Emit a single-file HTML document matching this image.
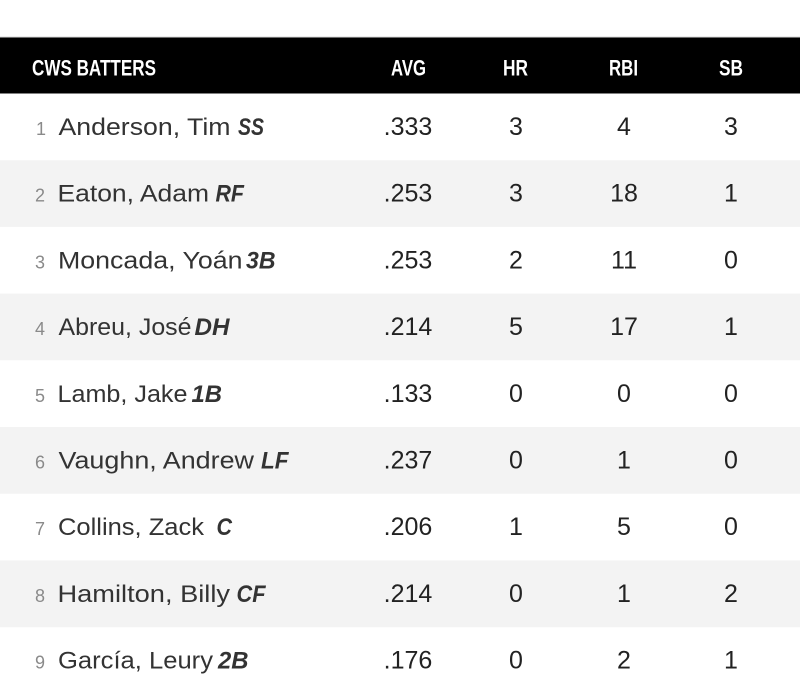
<!DOCTYPE html>
<html>
<head>
<meta charset="utf-8">
<style>
  html, body { margin:0; padding:0; background:#fff; }
  svg { display:block; }
  .hl { font-family:"Liberation Sans", sans-serif; font-weight:bold; font-size:22px; fill:#fff; }
  .num { font-family:"Liberation Sans", sans-serif; font-size:18px; fill:#8a8a8a; }
  .nm { font-family:"Liberation Sans", sans-serif; font-size:24px; fill:#333; }
  .ps { font-family:"Liberation Sans", sans-serif; font-size:24px; font-weight:bold; font-style:italic; fill:#333; }
  .v { font-family:"Liberation Sans", sans-serif; font-size:25px; fill:#222; text-anchor:middle; }
</style>
</head>
<body>
<svg width="800" height="700" viewBox="0 0 800 700" xmlns="http://www.w3.org/2000/svg">
  <rect x="0" y="0" width="800" height="700" fill="#fff"/>
  <rect x="0" y="36.5" width="800" height="1" fill="#d8d8d8"/>
  <rect x="0" y="37.5" width="800" height="56" fill="#000"/>
  <text class="hl" x="32" y="75.5" textLength="124" lengthAdjust="spacingAndGlyphs">CWS BATTERS</text>
  <text class="hl" x="391" y="75.5" textLength="35" lengthAdjust="spacingAndGlyphs">AVG</text>
  <text class="hl" x="503" y="75.5" textLength="25" lengthAdjust="spacingAndGlyphs">HR</text>
  <text class="hl" x="609" y="75.5" textLength="29" lengthAdjust="spacingAndGlyphs">RBI</text>
  <text class="hl" x="719" y="75.5" textLength="24" lengthAdjust="spacingAndGlyphs">SB</text>

  <!-- row backgrounds -->
  <rect x="0" y="160.2" width="800" height="66.7" fill="#f3f3f3"/>
  <rect x="0" y="293.6" width="800" height="66.7" fill="#f3f3f3"/>
  <rect x="0" y="427" width="800" height="66.7" fill="#f3f3f3"/>
  <rect x="0" y="560.4" width="800" height="66.9" fill="#f3f3f3"/>

  <!-- row 1 -->
  <text class="num" x="36" y="135">1</text>
  <text class="nm" x="58.5" y="135" textLength="172" lengthAdjust="spacingAndGlyphs">Anderson, Tim</text>
  <text class="ps" x="238" y="135" textLength="26" lengthAdjust="spacingAndGlyphs">SS</text>
  <text class="v" x="408" y="135">.333</text><text class="v" x="516" y="135">3</text><text class="v" x="624" y="135">4</text><text class="v" x="731" y="135">3</text>

  <!-- row 2 -->
  <text class="num" x="35" y="201.7">2</text>
  <text class="nm" x="57.5" y="201.7" textLength="151.5" lengthAdjust="spacingAndGlyphs">Eaton, Adam</text>
  <text class="ps" x="215.5" y="201.7" textLength="28.5" lengthAdjust="spacingAndGlyphs">RF</text>
  <text class="v" x="408" y="201.7">.253</text><text class="v" x="516" y="201.7">3</text><text class="v" x="624" y="201.7">18</text><text class="v" x="731" y="201.7">1</text>

  <!-- row 3 -->
  <text class="num" x="35" y="268.4">3</text>
  <text class="nm" x="58" y="268.4" textLength="184.5" lengthAdjust="spacingAndGlyphs">Moncada, Yoán</text>
  <text class="ps" x="246" y="268.4" textLength="29.5" lengthAdjust="spacingAndGlyphs">3B</text>
  <text class="v" x="408" y="268.4">.253</text><text class="v" x="516" y="268.4">2</text><text class="v" x="624" y="268.4">11</text><text class="v" x="731" y="268.4">0</text>

  <!-- row 4 -->
  <text class="num" x="35" y="335.1">4</text>
  <text class="nm" x="58.5" y="335.1" textLength="133" lengthAdjust="spacingAndGlyphs">Abreu, José</text>
  <text class="ps" x="194.5" y="335.1" textLength="35" lengthAdjust="spacingAndGlyphs">DH</text>
  <text class="v" x="408" y="335.1">.214</text><text class="v" x="516" y="335.1">5</text><text class="v" x="624" y="335.1">17</text><text class="v" x="731" y="335.1">1</text>

  <!-- row 5 -->
  <text class="num" x="35" y="401.8">5</text>
  <text class="nm" x="57.5" y="401.8" textLength="130" lengthAdjust="spacingAndGlyphs">Lamb, Jake</text>
  <text class="ps" x="191.5" y="401.8" textLength="30.5" lengthAdjust="spacingAndGlyphs">1B</text>
  <text class="v" x="408" y="401.8">.133</text><text class="v" x="516" y="401.8">0</text><text class="v" x="624" y="401.8">0</text><text class="v" x="731" y="401.8">0</text>

  <!-- row 6 -->
  <text class="num" x="35" y="468.5">6</text>
  <text class="nm" x="58.5" y="468.5" textLength="195.5" lengthAdjust="spacingAndGlyphs">Vaughn, Andrew</text>
  <text class="ps" x="261" y="468.5" textLength="27.5" lengthAdjust="spacingAndGlyphs">LF</text>
  <text class="v" x="408" y="468.5">.237</text><text class="v" x="516" y="468.5">0</text><text class="v" x="624" y="468.5">1</text><text class="v" x="731" y="468.5">0</text>

  <!-- row 7 -->
  <text class="num" x="35" y="535.2">7</text>
  <text class="nm" x="58" y="535.2" textLength="146" lengthAdjust="spacingAndGlyphs">Collins, Zack</text>
  <text class="ps" x="216.5" y="535.2" textLength="15.5" lengthAdjust="spacingAndGlyphs">C</text>
  <text class="v" x="408" y="535.2">.206</text><text class="v" x="516" y="535.2">1</text><text class="v" x="624" y="535.2">5</text><text class="v" x="731" y="535.2">0</text>

  <!-- row 8 -->
  <text class="num" x="35" y="601.9">8</text>
  <text class="nm" x="57.5" y="601.9" textLength="172.5" lengthAdjust="spacingAndGlyphs">Hamilton, Billy</text>
  <text class="ps" x="236.5" y="601.9" textLength="29" lengthAdjust="spacingAndGlyphs">CF</text>
  <text class="v" x="408" y="601.9">.214</text><text class="v" x="516" y="601.9">0</text><text class="v" x="624" y="601.9">1</text><text class="v" x="731" y="601.9">2</text>

  <!-- row 9 -->
  <text class="num" x="35" y="668.6">9</text>
  <text class="nm" x="58" y="668.6" textLength="155" lengthAdjust="spacingAndGlyphs">García, Leury</text>
  <text class="ps" x="218" y="668.6" textLength="30.5" lengthAdjust="spacingAndGlyphs">2B</text>
  <text class="v" x="408" y="668.6">.176</text><text class="v" x="516" y="668.6">0</text><text class="v" x="624" y="668.6">2</text><text class="v" x="731" y="668.6">1</text>
</svg>
</body>
</html>
